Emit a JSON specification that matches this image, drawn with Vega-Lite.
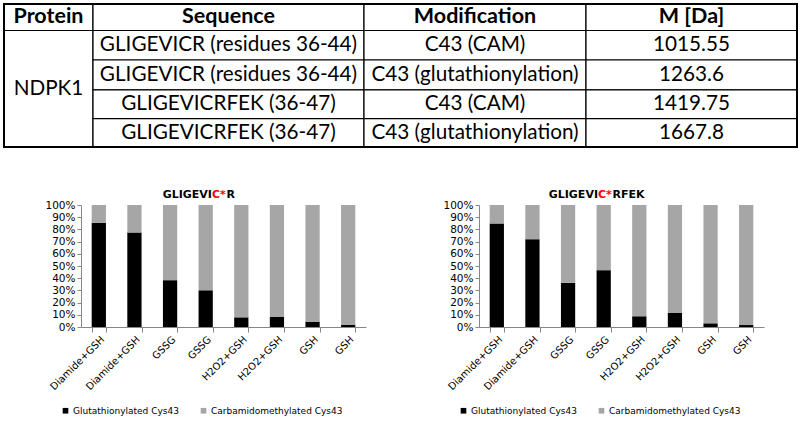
{
  "$schema": "https://vega.github.io/schema/vega-lite/v6.json",
  "background": "white",
  "padding": {"left": 3, "top": 3, "right": 0, "bottom": 0},
  "config": {
    "view": {"stroke": null},
    "font": "DejaVu Sans",
    "axis": {"labelFont": "DejaVu Sans", "labelColor": "black", "domainColor": "#868686", "tickColor": "#868686", "grid": false, "labelOverlap": false},
    "legend": {"labelFont": "DejaVu Sans", "labelFontSize": 9, "labelColor": "black"},
    "text": {"font": "DejaVu Sans"}
  },
  "datasets": {
    "header": [
      {"label": "Protein", "x0": 0, "x1": 89, "y0": 0, "y1": 26.5},
      {"label": "Sequence", "x0": 89, "x1": 360, "y0": 0, "y1": 26.5},
      {"label": "Modification", "x0": 360, "x1": 582, "y0": 0, "y1": 26.5},
      {"label": "M [Da]", "x0": 582, "x1": 793, "y0": 0, "y1": 26.5}
    ],
    "body": [
      {"label": "NDPK1", "x0": 0, "x1": 89, "y0": 26.5, "y1": 143},
      {"label": "GLIGEVICR (residues 36-44)", "x0": 89, "x1": 360, "y0": 26.5, "y1": 56},
      {"label": "C43 (CAM)", "x0": 360, "x1": 582, "y0": 26.5, "y1": 56},
      {"label": "1015.55", "x0": 582, "x1": 793, "y0": 26.5, "y1": 56},
      {"label": "GLIGEVICR (residues 36-44)", "x0": 89, "x1": 360, "y0": 56, "y1": 85.8},
      {"label": "C43 (glutathionylation)", "x0": 360, "x1": 582, "y0": 56, "y1": 85.8},
      {"label": "1263.6", "x0": 582, "x1": 793, "y0": 56, "y1": 85.8},
      {"label": "GLIGEVICRFEK (36-47)", "x0": 89, "x1": 360, "y0": 85.8, "y1": 114.7},
      {"label": "C43 (CAM)", "x0": 360, "x1": 582, "y0": 85.8, "y1": 114.7},
      {"label": "1419.75", "x0": 582, "x1": 793, "y0": 85.8, "y1": 114.7},
      {"label": "GLIGEVICRFEK (36-47)", "x0": 89, "x1": 360, "y0": 114.7, "y1": 143},
      {"label": "C43 (glutathionylation)", "x0": 360, "x1": 582, "y0": 114.7, "y1": 143},
      {"label": "1667.8", "x0": 582, "x1": 793, "y0": 114.7, "y1": 143}
    ],
    "ratio": [
      {"peptide": "GLIGEVIC*R", "idx": 1, "treatment": "Diamide+GSH", "form": "Glutathionylated Cys43", "pct": 85.5},
      {"peptide": "GLIGEVIC*R", "idx": 1, "treatment": "Diamide+GSH", "form": "Carbamidomethylated Cys43", "pct": 14.5},
      {"peptide": "GLIGEVIC*R", "idx": 2, "treatment": "Diamide+GSH", "form": "Glutathionylated Cys43", "pct": 77.5},
      {"peptide": "GLIGEVIC*R", "idx": 2, "treatment": "Diamide+GSH", "form": "Carbamidomethylated Cys43", "pct": 22.5},
      {"peptide": "GLIGEVIC*R", "idx": 3, "treatment": "GSSG", "form": "Glutathionylated Cys43", "pct": 38.4},
      {"peptide": "GLIGEVIC*R", "idx": 3, "treatment": "GSSG", "form": "Carbamidomethylated Cys43", "pct": 61.6},
      {"peptide": "GLIGEVIC*R", "idx": 4, "treatment": "GSSG", "form": "Glutathionylated Cys43", "pct": 30.1},
      {"peptide": "GLIGEVIC*R", "idx": 4, "treatment": "GSSG", "form": "Carbamidomethylated Cys43", "pct": 69.9},
      {"peptide": "GLIGEVIC*R", "idx": 5, "treatment": "H2O2+GSH", "form": "Glutathionylated Cys43", "pct": 7.9},
      {"peptide": "GLIGEVIC*R", "idx": 5, "treatment": "H2O2+GSH", "form": "Carbamidomethylated Cys43", "pct": 92.1},
      {"peptide": "GLIGEVIC*R", "idx": 6, "treatment": "H2O2+GSH", "form": "Glutathionylated Cys43", "pct": 8.2},
      {"peptide": "GLIGEVIC*R", "idx": 6, "treatment": "H2O2+GSH", "form": "Carbamidomethylated Cys43", "pct": 91.8},
      {"peptide": "GLIGEVIC*R", "idx": 7, "treatment": "GSH", "form": "Glutathionylated Cys43", "pct": 4.4},
      {"peptide": "GLIGEVIC*R", "idx": 7, "treatment": "GSH", "form": "Carbamidomethylated Cys43", "pct": 95.6},
      {"peptide": "GLIGEVIC*R", "idx": 8, "treatment": "GSH", "form": "Glutathionylated Cys43", "pct": 1.9},
      {"peptide": "GLIGEVIC*R", "idx": 8, "treatment": "GSH", "form": "Carbamidomethylated Cys43", "pct": 98.1},
      {"peptide": "GLIGEVIC*RFEK", "idx": 1, "treatment": "Diamide+GSH", "form": "Glutathionylated Cys43", "pct": 84.9},
      {"peptide": "GLIGEVIC*RFEK", "idx": 1, "treatment": "Diamide+GSH", "form": "Carbamidomethylated Cys43", "pct": 15.1},
      {"peptide": "GLIGEVIC*RFEK", "idx": 2, "treatment": "Diamide+GSH", "form": "Glutathionylated Cys43", "pct": 72.0},
      {"peptide": "GLIGEVIC*RFEK", "idx": 2, "treatment": "Diamide+GSH", "form": "Carbamidomethylated Cys43", "pct": 28.0},
      {"peptide": "GLIGEVIC*RFEK", "idx": 3, "treatment": "GSSG", "form": "Glutathionylated Cys43", "pct": 36.2},
      {"peptide": "GLIGEVIC*RFEK", "idx": 3, "treatment": "GSSG", "form": "Carbamidomethylated Cys43", "pct": 63.8},
      {"peptide": "GLIGEVIC*RFEK", "idx": 4, "treatment": "GSSG", "form": "Glutathionylated Cys43", "pct": 46.6},
      {"peptide": "GLIGEVIC*RFEK", "idx": 4, "treatment": "GSSG", "form": "Carbamidomethylated Cys43", "pct": 53.4},
      {"peptide": "GLIGEVIC*RFEK", "idx": 5, "treatment": "H2O2+GSH", "form": "Glutathionylated Cys43", "pct": 8.8},
      {"peptide": "GLIGEVIC*RFEK", "idx": 5, "treatment": "H2O2+GSH", "form": "Carbamidomethylated Cys43", "pct": 91.2},
      {"peptide": "GLIGEVIC*RFEK", "idx": 6, "treatment": "H2O2+GSH", "form": "Glutathionylated Cys43", "pct": 11.5},
      {"peptide": "GLIGEVIC*RFEK", "idx": 6, "treatment": "H2O2+GSH", "form": "Carbamidomethylated Cys43", "pct": 88.5},
      {"peptide": "GLIGEVIC*RFEK", "idx": 7, "treatment": "GSH", "form": "Glutathionylated Cys43", "pct": 3.0},
      {"peptide": "GLIGEVIC*RFEK", "idx": 7, "treatment": "GSH", "form": "Carbamidomethylated Cys43", "pct": 97.0},
      {"peptide": "GLIGEVIC*RFEK", "idx": 8, "treatment": "GSH", "form": "Glutathionylated Cys43", "pct": 1.6},
      {"peptide": "GLIGEVIC*RFEK", "idx": 8, "treatment": "GSH", "form": "Carbamidomethylated Cys43", "pct": 98.4}
    ]
  },
  "spacing": 40,
  "align": "none",
  "vconcat": [
    {
      "width": 793,
      "height": 143,
      "layer": [
        {
          "data": {"name": "header"},
          "mark": {"type": "rect", "fill": "white", "stroke": "black", "strokeWidth": 1.2, "clip": false},
          "encoding": {
            "x": {"field": "x0", "type": "quantitative", "scale": {"domain": [77, 870], "nice": false, "zero": false}, "axis": null},
            "x2": {"field": "x1"},
            "y": {"field": "y0", "type": "quantitative", "scale": {"domain": [0, 143], "nice": false, "zero": false, "reverse": true}, "axis": null},
            "y2": {"field": "y1"}
          }
        },
        {
          "data": {"name": "body"},
          "mark": {"type": "rect", "fill": "white", "stroke": "black", "strokeWidth": 1.2, "clip": false},
          "encoding": {
            "x": {"field": "x0", "type": "quantitative"},
            "x2": {"field": "x1"},
            "y": {"field": "y0", "type": "quantitative"},
            "y2": {"field": "y1"}
          }
        },
        {
          "data": {"name": "header"},
          "transform": [
            {"calculate": "(datum.x0 + datum.x1) / 2", "as": "cx"},
            {"calculate": "(datum.y0 + datum.y1) / 2", "as": "cy"}
          ],
          "mark": {"type": "text", "font": "Lato", "fontWeight": "bold", "fontSize": 21.5, "align": "center", "baseline": "middle", "color": "black", "clip": false},
          "encoding": {
            "x": {"field": "cx", "type": "quantitative"},
            "y": {"field": "cy", "type": "quantitative"},
            "text": {"field": "label"}
          }
        },
        {
          "data": {"name": "body"},
          "transform": [
            {"calculate": "(datum.x0 + datum.x1) / 2", "as": "cx"},
            {"calculate": "(datum.y0 + datum.y1) / 2", "as": "cy"}
          ],
          "mark": {"type": "text", "font": "Lato", "fontSize": 20.7, "align": "center", "baseline": "middle", "color": "black", "clip": false},
          "encoding": {
            "x": {"field": "cx", "type": "quantitative"},
            "y": {"field": "cy", "type": "quantitative"},
            "text": {"field": "label"}
          }
        },
        {
          "data": {"values": [{"frame": "table"}]},
          "mark": {"type": "rect", "fill": null, "filled": false, "stroke": "black", "strokeWidth": 2, "clip": false},
          "encoding": {
            "x": {"datum": 0, "type": "quantitative"},
            "x2": {"datum": 793},
            "y": {"datum": 0, "type": "quantitative"},
            "y2": {"datum": 143}
          }
        }
      ]
    },
    {
      "spacing": 76,
      "resolve": {"scale": {"color": "independent"}, "legend": {"color": "independent"}},
      "hconcat": [
        {
          "width": 285,
          "height": 122,
          "layer": [
            {
              "data": {"name": "ratio"},
              "transform": [{"filter": "datum.peptide === 'GLIGEVIC*R'"}],
              "mark": {"type": "bar"},
              "encoding": {
                "x": {
                  "field": "idx", "type": "ordinal",
                  "scale": {"paddingInner": 0.6, "paddingOuter": 0.3},
                  "axis": {
                    "title": null,
                    "labelExpr": "['Diamide+GSH','Diamide+GSH','GSSG','GSSG','H2O2+GSH','H2O2+GSH','GSH','GSH'][datum.value - 1]",
                    "labelAngle": -45, "labelFont": "DejaVu Sans", "labelFontSize": 10, "labelPadding": 2, "tickBand": "extent", "tickSize": 5
                  }
                },
                "y": {
                  "field": "pct", "type": "quantitative", "stack": "zero",
                  "scale": {"domain": [0, 100], "nice": false},
                  "axis": {
                    "title": null, "values": [0, 10, 20, 30, 40, 50, 60, 70, 80, 90, 100], "tickCount": 11, "labelOverlap": false,
                    "labelExpr": "datum.value + '%'", "labelFont": "DejaVu Sans", "labelFontSize": 10.5, "labelPadding": 2, "tickSize": 4
                  }
                },
                "color": {
                  "field": "form", "type": "nominal",
                  "sort": ["Glutathionylated Cys43", "Carbamidomethylated Cys43"],
                  "scale": {"domain": ["Glutathionylated Cys43", "Carbamidomethylated Cys43"], "range": ["#000000", "#a6a6a6"]},
                  "legend": {
                    "orient": "none", "legendX": -20, "legendY": 201, "direction": "horizontal", "title": null,
                    "symbolType": "square", "symbolSize": 32, "symbolStrokeWidth": 0, "labelFont": "DejaVu Sans", "labelFontSize": 9,
                    "columnPadding": 20, "labelOffset": 3
                  }
                }
              }
            },
            {
              "data": {"values": [{"part": "GLIGEVI"}]},
              "mark": {"type": "text", "font": "DejaVu Sans", "fontWeight": "bold", "fontSize": 11, "align": "right", "baseline": "alphabetic", "color": "black"},
              "encoding": {
                "x": {"datum": 4, "type": "ordinal", "bandPosition": 0.94},
                "y": {"datum": 105.8, "type": "quantitative", "axis": {"title": null, "values": [0, 10, 20, 30, 40, 50, 60, 70, 80, 90, 100], "tickCount": 11, "labelOverlap": false, "labelExpr": "datum.value + '%'", "labelFont": "DejaVu Sans", "labelFontSize": 10.5, "labelPadding": 2, "tickSize": 4}},
                "text": {"field": "part"}
              }
            },
            {
              "data": {"values": [{"part": "C*"}]},
              "mark": {"type": "text", "font": "DejaVu Sans", "fontWeight": "bold", "fontSize": 11, "align": "left", "baseline": "alphabetic", "color": "#ff0000"},
              "encoding": {
                "x": {"datum": 4, "type": "ordinal", "bandPosition": 0.94},
                "y": {"datum": 105.8, "type": "quantitative", "axis": {"title": null, "values": [0, 10, 20, 30, 40, 50, 60, 70, 80, 90, 100], "tickCount": 11, "labelOverlap": false, "labelExpr": "datum.value + '%'", "labelFont": "DejaVu Sans", "labelFontSize": 10.5, "labelPadding": 2, "tickSize": 4}},
                "text": {"field": "part"}
              }
            },
            {
              "data": {"values": [{"part": "R"}]},
              "mark": {"type": "text", "font": "DejaVu Sans", "fontWeight": "bold", "fontSize": 11, "align": "left", "baseline": "alphabetic", "color": "black", "dx": 14.5},
              "encoding": {
                "x": {"datum": 4, "type": "ordinal", "bandPosition": 0.94},
                "y": {"datum": 105.8, "type": "quantitative", "axis": {"title": null, "values": [0, 10, 20, 30, 40, 50, 60, 70, 80, 90, 100], "tickCount": 11, "labelOverlap": false, "labelExpr": "datum.value + '%'", "labelFont": "DejaVu Sans", "labelFontSize": 10.5, "labelPadding": 2, "tickSize": 4}},
                "text": {"field": "part"}
              }
            }
          ]
        },
        {
          "width": 285,
          "height": 122,
          "layer": [
            {
              "data": {"name": "ratio"},
              "transform": [{"filter": "datum.peptide === 'GLIGEVIC*RFEK'"}],
              "mark": {"type": "bar"},
              "encoding": {
                "x": {
                  "field": "idx", "type": "ordinal",
                  "scale": {"paddingInner": 0.6, "paddingOuter": 0.3},
                  "axis": {
                    "title": null,
                    "labelExpr": "['Diamide+GSH','Diamide+GSH','GSSG','GSSG','H2O2+GSH','H2O2+GSH','GSH','GSH'][datum.value - 1]",
                    "labelAngle": -45, "labelFont": "DejaVu Sans", "labelFontSize": 10, "labelPadding": 2, "tickBand": "extent", "tickSize": 5
                  }
                },
                "y": {
                  "field": "pct", "type": "quantitative", "stack": "zero",
                  "scale": {"domain": [0, 100], "nice": false},
                  "axis": {
                    "title": null, "values": [0, 10, 20, 30, 40, 50, 60, 70, 80, 90, 100], "tickCount": 11, "labelOverlap": false,
                    "labelExpr": "datum.value + '%'", "labelFont": "DejaVu Sans", "labelFontSize": 10.5, "labelPadding": 2, "tickSize": 4
                  }
                },
                "color": {
                  "field": "form", "type": "nominal",
                  "sort": ["Glutathionylated Cys43", "Carbamidomethylated Cys43"],
                  "scale": {"domain": ["Glutathionylated Cys43", "Carbamidomethylated Cys43"], "range": ["#000000", "#a6a6a6"]},
                  "legend": {
                    "orient": "none", "legendX": -20, "legendY": 201, "direction": "horizontal", "title": null,
                    "symbolType": "square", "symbolSize": 32, "symbolStrokeWidth": 0, "labelFont": "DejaVu Sans", "labelFontSize": 9,
                    "columnPadding": 20, "labelOffset": 3
                  }
                }
              }
            },
            {
              "data": {"values": [{"part": "GLIGEVI"}]},
              "mark": {"type": "text", "font": "DejaVu Sans", "fontWeight": "bold", "fontSize": 11, "align": "right", "baseline": "alphabetic", "color": "black"},
              "encoding": {
                "x": {"datum": 4, "type": "ordinal", "bandPosition": 0.1},
                "y": {"datum": 105.8, "type": "quantitative", "axis": {"title": null, "values": [0, 10, 20, 30, 40, 50, 60, 70, 80, 90, 100], "tickCount": 11, "labelOverlap": false, "labelExpr": "datum.value + '%'", "labelFont": "DejaVu Sans", "labelFontSize": 10.5, "labelPadding": 2, "tickSize": 4}},
                "text": {"field": "part"}
              }
            },
            {
              "data": {"values": [{"part": "C*"}]},
              "mark": {"type": "text", "font": "DejaVu Sans", "fontWeight": "bold", "fontSize": 11, "align": "left", "baseline": "alphabetic", "color": "#ff0000"},
              "encoding": {
                "x": {"datum": 4, "type": "ordinal", "bandPosition": 0.1},
                "y": {"datum": 105.8, "type": "quantitative", "axis": {"title": null, "values": [0, 10, 20, 30, 40, 50, 60, 70, 80, 90, 100], "tickCount": 11, "labelOverlap": false, "labelExpr": "datum.value + '%'", "labelFont": "DejaVu Sans", "labelFontSize": 10.5, "labelPadding": 2, "tickSize": 4}},
                "text": {"field": "part"}
              }
            },
            {
              "data": {"values": [{"part": "RFEK"}]},
              "mark": {"type": "text", "font": "DejaVu Sans", "fontWeight": "bold", "fontSize": 11, "align": "left", "baseline": "alphabetic", "color": "black", "dx": 14.5},
              "encoding": {
                "x": {"datum": 4, "type": "ordinal", "bandPosition": 0.1},
                "y": {"datum": 105.8, "type": "quantitative", "axis": {"title": null, "values": [0, 10, 20, 30, 40, 50, 60, 70, 80, 90, 100], "tickCount": 11, "labelOverlap": false, "labelExpr": "datum.value + '%'", "labelFont": "DejaVu Sans", "labelFontSize": 10.5, "labelPadding": 2, "tickSize": 4}},
                "text": {"field": "part"}
              }
            }
          ]
        }
      ]
    }
  ]
}
